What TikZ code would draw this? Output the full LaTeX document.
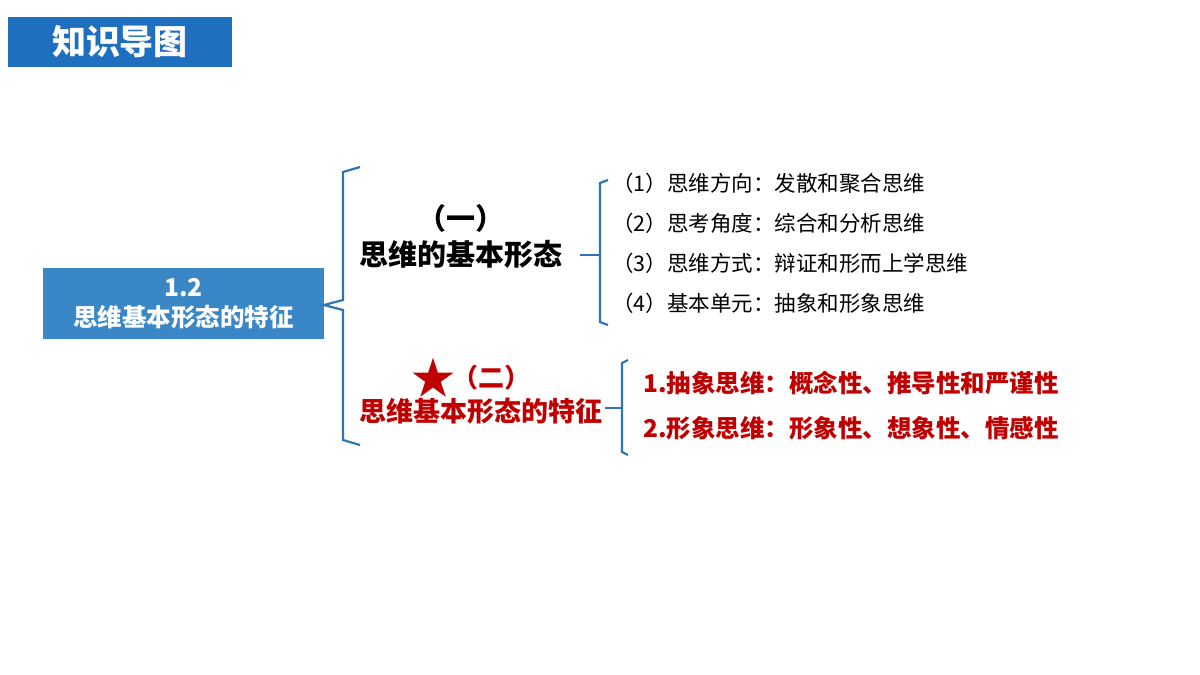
\documentclass[tikz,border=0pt]{standalone}
\usepackage{fontspec}
\setmainfont{Noto Sans CJK SC}
\usetikzlibrary{positioning,calc}
\definecolor{titleblue}{HTML}{1F6FC0}
\definecolor{boxblue}{HTML}{3A87C8}
\definecolor{bracecol}{HTML}{2E75B6}
\definecolor{deepred}{HTML}{C00000}
\tikzset{
    brace/.style = {draw=bracecol, line width=2.2pt},
    item/.style = {anchor=west, inner sep=0pt, font=\fontsize{21.5}{21.5}\selectfont},
    reditem/.style = {item, text=deepred, font=\fontsize{24.5}{24.5}\selectfont\bfseries}
}

\begin{document}
\begin{tikzpicture}[x=1pt,y=-1pt]
    \useasboundingbox (0,0) rectangle (1200,675);
    \node[fill=titleblue, minimum width=224pt, minimum height=50pt, inner sep=0pt,
          text=white, font=\fontsize{34}{34}\selectfont\bfseries] (title) at (120,42) {知识导图};

    \node[fill=boxblue, minimum width=281pt, minimum height=71pt, inner sep=0pt,
          text=white, align=center, font=\fontsize{24.5}{30}\selectfont\bfseries] (root) at (183.5,303.5) {1.2\\思维基本形态的特征};

    % big brace
    \draw[brace] (360,167) -- (343,172) -- (343,300) -- (324,305) -- (343,310) -- (343,440) -- (360,445);

    \node[align=center, font=\fontsize{29}{36}\selectfont\bfseries] (one) at (461,236) {（一）\\思维的基本形态};
    \coordinate (onel) at (580,255);
    \coordinate (onebr) at (600,255);
    \draw[brace] (onel) -- (onebr);
    \draw[brace] (608,180) -- (600,183) -- (600,322) -- (608,325);

    \node[item] (a1) at (612,183) {（1）思维方向：发散和聚合思维};
    \node[item] (a2) at (612,223) {（2）思考角度：综合和分析思维};
    \node[item] (a3) at (612,263) {（3）思维方式：辩证和形而上学思维};
    \node[item] (a4) at (612,303) {（4）基本单元：抽象和形象思维};

    \node[text=deepred, font=\fontsize{44}{44}\selectfont] (star) at (433,378) {★};
    \node[text=deepred, font=\fontsize{26}{26}\selectfont\bfseries, right=-10pt of star] (two) {（二）};
    \node[text=deepred, font=\fontsize{27}{27}\selectfont\bfseries] (twot) at (481,411) {思维基本形态的特征};
    \coordinate (twol) at (605,408);
    \coordinate (twobr) at (622,408);
    \draw[brace] (twol) -- (twobr);
    \draw[brace] (628,360) -- (622,363) -- (622,452) -- (628,455);

    \node[reditem] (b1) at (643,383) {1.抽象思维：概念性、推导性和严谨性};
    \node[reditem] (b2) at (643,428) {2.形象思维：形象性、想象性、情感性};
\end{tikzpicture}
\end{document}
